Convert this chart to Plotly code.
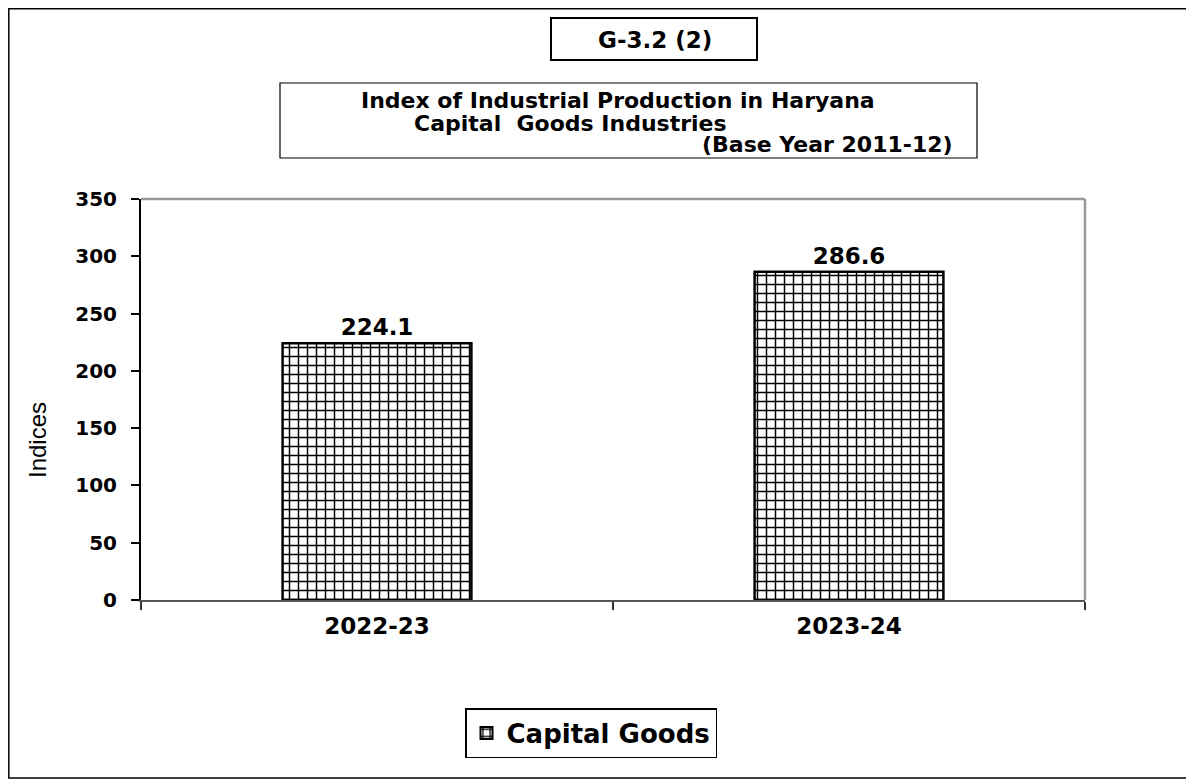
import plotly.graph_objects as go

# ---- data ----
categories = ["2022-23", "2023-24"]
values = [224.1, 286.6]
series_name = "Capital Goods"
y_ticks = [0, 50, 100, 150, 200, 250, 300, 350]

# page body has an 8px margin; build the figure in reference pixel coords minus 8
OFF = 8
W, H = 1194 - OFF, 783 - OFF
PL, PR, PT, PB = 141, 1085, 199, 600          # plot area in reference pixels
L, R, T, B = PL - OFF, 1194 - PR, PT - OFF, 783 - PB
PW, PH = PR - PL, PB - PT


def px_x(px):
    return (px - PL) / PW


def px_y(py):
    return (PB - py) / PH


FONT = "DejaVu Sans"

fig = go.Figure()
fig.add_trace(go.Bar(
    x=categories, y=values, name=series_name,
    width=0.40,
    marker=dict(color="white",
                line=dict(color="black", width=2.5),
                pattern=dict(shape="+", size=9, solidity=0.3,
                             fgcolor="black", bgcolor="white",
                             fillmode="replace")),
    text=[f"{v:.1f}" for v in values],
    textposition="outside",
    cliponaxis=False,
    textfont=dict(family=FONT, size=23, color="black", weight="bold"),
    showlegend=True,
))

shapes = [
    # outer border
    dict(type="rect", xref="paper", yref="paper",
         x0=px_x(OFF + 0.8), x1=px_x(1188), y0=px_y(778), y1=px_y(OFF + 0.8),
         line=dict(color="black", width=1.5)),
    # G box
    dict(type="rect", xref="paper", yref="paper",
         x0=px_x(551), x1=px_x(757), y0=px_y(60), y1=px_y(18),
         line=dict(color="black", width=2)),
    # title box
    dict(type="rect", xref="paper", yref="paper",
         x0=px_x(280), x1=px_x(977), y0=px_y(158), y1=px_y(83),
         line=dict(color="black", width=1.2)),
    # plot area top and right border (gray)
    dict(type="line", xref="paper", yref="paper", x0=0, x1=1, y0=1, y1=1,
         line=dict(color="#999999", width=2.5)),
    dict(type="line", xref="paper", yref="paper", x0=1, x1=1, y0=0, y1=1,
         line=dict(color="#999999", width=2.5)),
]

annotations = [
    dict(text="G-3.2 (2)", xref="paper", yref="paper",
         x=px_x(655), y=px_y(40), xanchor="center", yanchor="middle",
         showarrow=False, font=dict(family=FONT, size=23, color="black", weight="bold")),
    dict(text="Index of Industrial Production in Haryana", xref="paper", yref="paper",
         x=px_x(618), y=px_y(101), xanchor="center", yanchor="middle",
         showarrow=False, font=dict(family=FONT, size=22, color="black", weight="bold")),
    dict(text="Capital  Goods Industries", xref="paper", yref="paper",
         x=px_x(570), y=px_y(123), xanchor="center", yanchor="middle",
         showarrow=False, font=dict(family=FONT, size=22, color="black", weight="bold")),
    dict(text="(Base Year 2011-12)", xref="paper", yref="paper",
         x=px_x(955), y=px_y(145), xanchor="right", yanchor="middle",
         showarrow=False, font=dict(family=FONT, size=22, color="black", weight="bold")),
    dict(text="Indices", xref="paper", yref="paper",
         x=px_x(37), y=px_y(440), xanchor="center", yanchor="middle",
         textangle=-90, showarrow=False,
         font=dict(family="Liberation Sans Narrow, Liberation Sans", size=24, color="black")),
]

fig.update_layout(
    width=W, height=H,
    margin=dict(l=L, r=R, t=T, b=B, autoexpand=False),
    paper_bgcolor="white", plot_bgcolor="white",
    bargap=0.6,
    shapes=shapes,
    annotations=annotations,
    showlegend=True,
    legend=dict(orientation="h", x=px_x(591), y=px_y(708), xanchor="center", yanchor="top",
                bgcolor="white", bordercolor="black", borderwidth=1.5,
                font=dict(family=FONT, size=26, color="black", weight="bold"),
                itemsizing="constant"),
    xaxis=dict(showline=True, linecolor="#555555", linewidth=2,
               ticks="outside", tickson="boundaries", ticklen=8, tickcolor="#333333",
               tickwidth=2, showgrid=False, ticklabelstandoff=4,
               tickfont=dict(family=FONT, size=23, color="black", weight="bold")),
    yaxis=dict(range=[0, 350], tickvals=y_ticks, showline=True, linecolor="black",
               linewidth=2, ticks="outside", ticklen=8, tickwidth=1.5, tickcolor="black",
               showgrid=False, zeroline=False, ticklabelstandoff=10,
               tickfont=dict(family=FONT, size=20, color="black", weight="bold")),
)

fig.write_html("out.html")
